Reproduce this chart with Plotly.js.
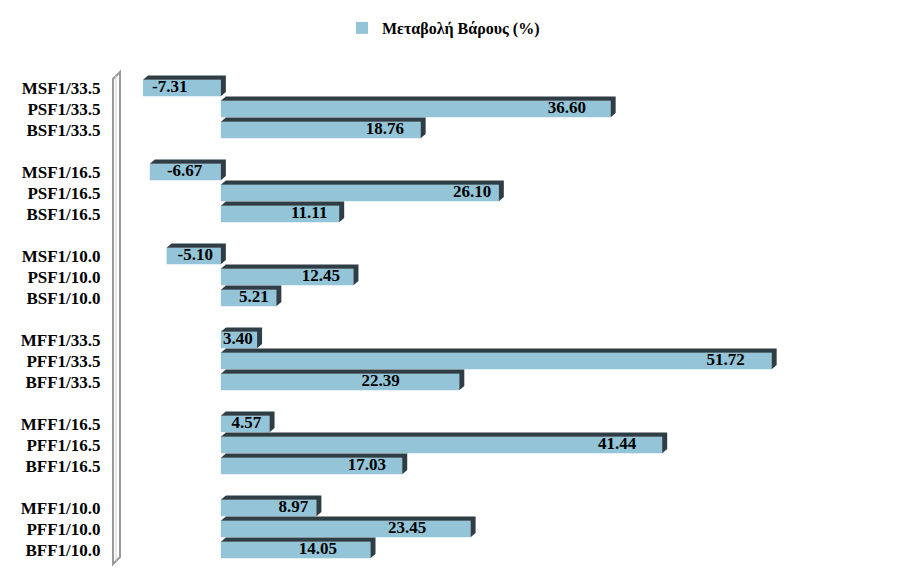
<!DOCTYPE html>
<html>
<head>
<meta charset="utf-8">
<script src="https://cdn.plot.ly/plotly-3.0.1.min.js"></script>
<style>html,body{margin:0;padding:0;background:#fff;}#chart{width:900px;height:588px;}</style>
</head>
<body>
<div id="chart"></div>
<script>
// ---- data ----
const categories = [
  'MSF1/33.5','PSF1/33.5','BSF1/33.5',
  'MSF1/16.5','PSF1/16.5','BSF1/16.5',
  'MSF1/10.0','PSF1/10.0','BSF1/10.0',
  'MFF1/33.5','PFF1/33.5','BFF1/33.5',
  'MFF1/16.5','PFF1/16.5','BFF1/16.5',
  'MFF1/10.0','PFF1/10.0','BFF1/10.0'
];
const values = [
  -7.31, 36.60, 18.76,
  -6.67, 26.10, 11.11,
  -5.10, 12.45, 5.21,
  3.40, 51.72, 22.39,
  4.57, 41.44, 17.03,
  8.97, 23.45, 14.05
];
// where each value label sits
const labelX = [
  -4.8, 32.5, 15.4,
  -3.4, 23.6, 8.3,
  -2.4, 9.4, 3.1,
  1.6, 47.4, 15.0,
  2.4, 37.2, 13.7,
  6.8, 17.5, 9.1
];
const seriesName = 'Μεταβολή Βάρους (%)';

// ---- layout helpers ----
const W = 900, H = 588;
const M = {l: 125, r: 20, t: 67, b: 17};
const groupSize = 3;
const pos = categories.map((c, i) => Math.floor(i / groupSize) * (groupSize + 1) + (i % groupSize));
const barW = 0.78, dx = 0.47, dy = 0.2;

// 3D depth faces (top + right side) as polygons in data units
const dX = [], dY = [];
values.forEach((v, i) => {
  const x0 = Math.min(0, v), x1 = Math.max(0, v);
  const top = pos[i] - barW / 2, bot = pos[i] + barW / 2;
  dX.push(x0, x0 + dx, x1 + dx, x1 + dx, x1, x1, null);
  dY.push(top, top - dy, top - dy, bot - dy, bot, top, null);
});

const font = 'Liberation Serif, Times New Roman, serif';

const traces = [
  {
    type: 'bar', orientation: 'h', name: seriesName,
    x: values, y: pos, width: barW,
    marker: {color: '#93C4D7', line: {width: 0}},
    hoverinfo: 'x'
  },
  {
    type: 'scatter', mode: 'lines', x: dX, y: dY, fill: 'toself',
    fillcolor: '#2F3E46', line: {width: 0, color: '#2F3E46'},
    showlegend: false, hoverinfo: 'skip'
  },
  {
    type: 'scatter', mode: 'text', x: labelX, y: pos,
    text: values.map(v => v.toFixed(2)),
    textposition: 'middle center',
    textfont: {family: font, size: 17, color: '#000', weight: 'bold'},
    showlegend: false, hoverinfo: 'skip', cliponaxis: false
  }
];

// pixel -> paper helpers for the decorative wall
const pw = W - M.l - M.r, ph = H - M.t - M.b;
const px = p => ((p - M.l) / pw).toFixed(5);
const py = p => (1 - (p - M.t) / ph).toFixed(5);
const wallPath = `M${px(113)},${py(79)} L${px(120)},${py(72)} L${px(120)},${py(557)} L${px(113)},${py(564)} Z`;
const wallInner = `M${px(116)},${py(76)} L${px(116)},${py(561)}`;

const layout = {
  width: W, height: H,
  margin: M,
  paper_bgcolor: '#fff', plot_bgcolor: '#fff',
  showlegend: true,
  legend: {
    orientation: 'h', xref: 'container', yref: 'container',
    x: 342 / W, xanchor: 'left', y: 1 - 11 / H, yanchor: 'top',
    font: {family: font, size: 16, color: '#000', weight: 'bold'},
    bgcolor: 'rgba(0,0,0,0)'
  },
  xaxis: {
    range: [-9, -9 + pw / 10.65],
    showgrid: false, zeroline: false, showline: false,
    showticklabels: false, ticks: '', fixedrange: true
  },
  yaxis: {
    range: [23, -1],
    tickvals: pos, ticktext: categories,
    tickfont: {family: font, size: 17, color: '#000', weight: 'bold'},
    ticks: 'outside', ticklen: 20, tickcolor: 'rgba(0,0,0,0)',
    showgrid: false, zeroline: false, showline: false, fixedrange: true
  },
  shapes: [
    {type: 'path', xref: 'paper', yref: 'paper', path: wallPath,
     fillcolor: '#ffffff', line: {color: '#9a9a9a', width: 2}, layer: 'above'},
    {type: 'path', xref: 'paper', yref: 'paper', path: wallInner,
     line: {color: '#d0d0d0', width: 1}, layer: 'above'}
  ]
};

Plotly.newPlot('chart', traces, layout, {displayModeBar: false, staticPlot: true});
</script>
</body>
</html>
